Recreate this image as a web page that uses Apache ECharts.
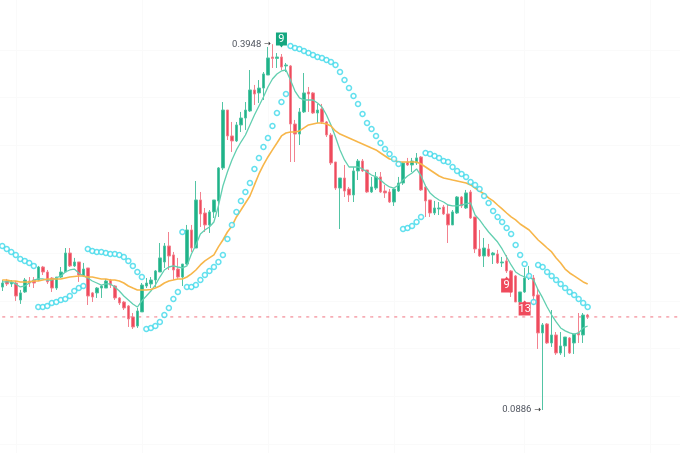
<!DOCTYPE html>
<html>
<head>
<meta charset="utf-8">
<title>chart</title>
<style>
	html,body{margin:0;padding:0;background:#fff;}
	#chart{width:680px;height:453px;}
</style>
<script src="https://cdn.jsdelivr.net/npm/echarts@6/dist/echarts.min.js"></script>
</head>
<body>
<div id="chart"></div>
<script>
var opens = [
	.1915,.1966,.1941,.1949,.1807,.1874,.1966,.1974,.1974,.2083,
	.2041,.1991,.1907,.1999,.2041,.2200,.2092,.2125,.2008,.2075,
	.1866,.1866,.1907,.1907,.1974,.1924,.1824,.1790,.1757,.1665,
	.1589,.1707,.1924,.1941,.1974,.2041,.2125,.2259,.2184,.2066,
	.1999,.2108,.2393,.2242,.2644,.2535,.2435,.2544,.2636,.2912,
	.3397,.3180,.3138,.3272,.3330,.3389,.3565,.3540,.3581,.3690,
	.3841,.3829,.3841,.3766,.3766,.3280,.3196,.3381,.3548,.3540,
	.3372,.3406,.3297,.3188,.2962,.2744,.2828,.2736,.2686,.2887,
	.2970,.2895,.2711,.2744,.2837,.2719,.2711,.2627,.2719,.2786,
	.2962,.2937,.2954,.3004,.2753,.2644,.2535,.2569,.2585,.2527,
	.2435,.2535,.2669,.2577,.2711,.2502,.2234,.2175,.2234,.2184,
	.2192,.2117,.2134,.2050,.2008,.1790,.1874,.1999,.1991,.1849,
	.1531,.1606,.1447,.1514,.1363,.1422,.1489,.1447,.1531,.1514,
	.1681
];
var closes = [
	.1949,.1941,.1958,.1840,.1866,.1974,.1949,.1949,.2083,.2041,
	.1958,.1907,.1999,.2041,.2200,.2092,.2125,.2016,.2066,.1840,
	.1832,.1907,.1924,.1966,.1932,.1824,.1782,.1740,.1648,.1581,
	.1715,.1932,.1949,.1974,.2050,.2159,.2259,.2175,.2058,.1999,
	.2108,.2393,.2242,.2644,.2527,.2435,.2544,.2644,.2912,.3397,
	.3180,.3138,.3272,.3330,.3397,.3565,.3531,.3581,.3699,.3833,
	.3829,.3841,.3757,.3774,.3280,.3196,.3381,.3540,.3531,.3372,
	.3397,.3297,.3188,.2954,.2744,.2828,.2719,.2686,.2887,.2970,
	.2887,.2711,.2753,.2837,.2711,.2703,.2627,.2736,.2786,.2954,
	.2937,.2970,.2996,.2728,.2636,.2535,.2577,.2577,.2527,.2435,
	.2544,.2669,.2594,.2703,.2493,.2234,.2175,.2242,.2175,.2200,
	.2117,.2125,.2050,.1874,.1790,.1874,.1991,.2008,.1840,.1531,
	.1598,.1447,.1514,.1363,.1422,.1497,.1363,.1522,.1514,.1681,
	.1665
];
var lows = [
	.1882,.1924,.1916,.1799,.1774,.1866,.1916,.1907,.1966,.2016,
	.1941,.1874,.1891,.1991,.2041,.2083,.2083,.1958,.1999,.1765,
	.1790,.1824,.1824,.1907,.1907,.1807,.1765,.1723,.1581,.1564,
	.1573,.1707,.1907,.1907,.1916,.2041,.2075,.2058,.1974,.1983,
	.1924,.2100,.2209,.2242,.2418,.2376,.2368,.2493,.2502,.2895,
	.3146,.3046,.3129,.3213,.3230,.3381,.3439,.3456,.3481,.3690,
	.3749,.3749,.3732,.3715,.2962,.2962,.3104,.3372,.3381,.3364,
	.3288,.3280,.3171,.2937,.2728,.2401,.2669,.2627,.2627,.2811,
	.2878,.2703,.2703,.2728,.2703,.2661,.2619,.2594,.2711,.2770,
	.2929,.2878,.2937,.2719,.2502,.2502,.2518,.2518,.2518,.2284,
	.2435,.2527,.2577,.2569,.2485,.2200,.2167,.2083,.2167,.2108,
	.2108,.2083,.2033,.1832,.1790,.1774,.1866,.1974,.1765,.1397,
	.0886,.1439,.1414,.1347,.1347,.1330,.1355,.1355,.1447,.1447,
	.1648
];
var highs = [
	.1974,.1983,.1974,.1966,.1891,.1991,.1999,.1999,.2092,.2092,
	.2058,.1999,.1999,.2083,.2242,.2242,.2159,.2125,.2117,.2075,
	.1874,.1915,.1932,.1983,.1983,.1932,.1832,.1799,.1765,.1698,
	.1740,.1949,.1991,.1999,.2058,.2284,.2284,.2376,.2209,.2159,
	.2108,.2435,.2435,.2803,.2711,.2577,.2560,.2644,.2920,.3464,
	.3397,.3297,.3297,.3381,.3464,.3732,.3607,.3648,.3715,.3925,
	.3948,.3874,.3866,.3791,.3774,.3314,.3414,.3707,.3590,.3548,
	.3448,.3448,.3305,.3205,.2962,.2828,.2937,.2753,.2920,.2987,
	.2987,.2895,.2837,.2878,.2878,.2770,.2736,.2744,.2837,.2962,
	.2996,.2996,.3037,.3012,.2770,.2644,.2636,.2627,.2602,.2602,
	.2560,.2677,.2677,.2728,.2728,.2502,.2393,.2326,.2276,.2209,
	.2226,.2167,.2184,.2058,.2016,.1874,.2075,.2092,.2016,.1907,
	.1614,.1614,.1723,.1539,.1539,.1497,.1497,.1522,.1698,.1698,
	.1690
];
var fastLine = [
	.1958,.1958,.1958,.1941,.1916,.1924,.1949,.1974,.1983,.1983,
	.1974,.1974,.1991,.2008,.2041,.2058,.2066,.2033,.2008,.1991,
	.1966,.1949,.1932,.1941,.1941,.1916,.1882,.1840,.1807,.1774,
	.1748,.1799,.1840,.1882,.1932,.1999,.2058,.2083,.2092,.2083,
	.2075,.2092,.2192,.2267,.2359,.2393,.2418,.2460,.2594,.2761,
	.2878,.2979,.3063,.3129,.3188,.3272,.3355,.3431,.3506,.3590,
	.3657,.3699,.3724,.3732,.3648,.3556,.3498,.3481,.3481,.3481,
	.3456,.3422,.3355,.3272,.3171,.3063,.2979,.2920,.2920,.2920,
	.2904,.2878,.2853,.2837,.2811,.2778,.2753,.2744,.2770,.2811,
	.2845,.2870,.2904,.2845,.2761,.2703,.2669,.2644,.2627,.2602,
	.2594,.2594,.2602,.2611,.2619,.2518,.2477,.2426,.2376,.2334,
	.2292,.2234,.2167,.2100,.2041,.2016,.1999,.1999,.1974,.1891,
	.1824,.1748,.1681,.1623,.1573,.1548,.1531,.1522,.1531,.1573,
	.1589
];
var slowLine = [
	.1974,.1974,.1966,.1966,.1958,.1958,.1958,.1966,.1966,.1974,
	.1983,.1983,.1983,.1983,.1991,.1999,.2004,.2008,.2008,.1999,
	.1999,.1991,.1983,.1983,.1974,.1974,.1966,.1949,.1924,.1907,
	.1891,.1891,.1891,.1895,.1907,.1924,.1949,.1966,.1974,.1983,
	.1983,.1999,.2025,.2058,.2100,.2134,.2159,.2184,.2251,.2309,
	.2376,.2426,.2502,.2560,.2619,.2677,.2770,.2862,.2937,.3004,
	.3063,.3121,.3180,.3205,.3213,.3213,.3222,.3247,.3272,.3280,
	.3288,.3288,.3280,.3263,.3222,.3196,.3180,.3163,.3146,.3129,
	.3113,.3096,.3079,.3063,.3037,.3012,.2987,.2979,.2962,.2962,
	.2962,.2962,.2962,.2945,.2920,.2895,.2870,.2845,.2828,.2820,
	.2811,.2803,.2795,.2786,.2770,.2744,.2719,.2694,.2661,.2636,
	.2602,.2569,.2535,.2502,.2477,.2443,.2418,.2393,.2351,.2309,
	.2276,.2242,.2209,.2159,.2117,.2066,.2033,.2008,.1983,.1958,
	.1941
];
var sarDots = [
	.2259,.2234,.2209,.2184,.2150,.2134,.2117,.2092,.1748,.1748,
	.1757,.1782,.1790,.1807,.1815,.1840,.1882,.1907,.1924,.2234,
	.2217,.2209,.2209,.2200,.2192,.2192,.2184,.2167,.2134,.2092,
	.2041,.1999,.1564,.1573,.1589,.1623,.1681,.1740,.1815,.1874,
	.2376,.1916,.1916,.1932,.1974,.2016,.2050,.2083,.2125,.2184,
	.2318,.2435,.2544,.2636,.2711,.2786,.2903,.2996,.3088,.3163,
	.3263,.3372,.3464,.3531,.3933,.3916,.3908,.3891,.3874,.3858,
	.3841,.3833,.3816,.3799,.3774,.3715,.3648,.3581,.3514,.3448,
	.3364,.3288,.3238,.3180,.3121,.3071,.3029,.2987,.2945,.2401,
	.2410,.2426,.2460,.2502,.3037,.3029,.3012,.2996,.2970,.2962,
	.2920,.2887,.2862,.2837,.2795,.2770,.2736,.2677,.2619,.2552,
	.2502,.2460,.2410,.2359,.2267,.2184,.2108,.2008,.1790,.2100,
	.2083,.2041,.2008,.1974,.1941,.1907,.1874,.1849,.1815,.1782,
	.1748
];
var gridPrices = [.3916,.3498,.3079,.2661,.2242,.1824,.1405,.0987,.0568];
var gridCandles = [3,31,59,87,116,144];
var lastPrice = .1665;
var highText = '0.3948';
var lowText = '0.0886';

var UP = '#1fb389';
var DOWN = '#ef4a5c';
var TAG_DOWN = 'path://M0 2H4L5.5 0L7 2H11V16H0Z';
var TAG_UP = 'path://M0 0H11V12H7L5.5 14L4 12H0Z';

var candles = [];
var categories = [];
for(var i=0;i<opens.length;i++){
	candles.push([opens[i],closes[i],lows[i],highs[i]]);
	categories.push(String(i));
}
// empty room right of the last candle
for(var j=0;j<20;j++){
	categories.push(String(opens.length+j));
}

var gridLines = [];
gridPrices.forEach(function(p){
	gridLines.push({yAxis:p});
});
gridCandles.forEach(function(c){
	gridLines.push({xAxis:c});
});

var priceLine = categories.map(function(){
	return lastPrice;
});

var tag = function(idx,price,text,color,path,w,h,shift){
	return {
		coord:[idx,price],
		symbol:path,
		symbolSize:[w,h],
		itemStyle:{color:color},
		label:{show:true,formatter:text,color:'#fff',fontSize:11,fontFamily:'Roboto',position:'inside',offset:[0,shift]}
	};
};
var note = function(idx,price,text){
	return {
		coord:[idx,price],
		symbol:'circle',
		symbolSize:1,
		itemStyle:{color:'rgba(0,0,0,0)'},
		label:{
			show:true,
			position:'left',
			distance:1,
			formatter:'{t|'+text+'}{a|\u2192}',
			rich:{
				t:{color:'#50555f',fontSize:9.5,fontFamily:'Roboto',padding:[0,3,0,0]},
				a:{color:'#222',fontSize:8,fontFamily:'DejaVu Sans'}
			}
		}
	};
};

var myChart = echarts.init(document.getElementById('chart'),null,{renderer:'canvas'});
var option = {
	animation:false,
	backgroundColor:'#fff',
	grid:{left:-1.76,right:-0.8,top:0,bottom:0},
	xAxis:{
		type:'category',
		data:categories,
		boundaryGap:true,
		axisLine:{show:false},
		axisTick:{show:false},
		axisLabel:{show:false},
		splitLine:{show:false}
	},
	yAxis:{
		type:'value',
		min:.0526,
		max:.4318,
		axisLine:{show:false},
		axisTick:{show:false},
		axisLabel:{show:false},
		splitLine:{show:false}
	},
	series:[
		{
			type:'candlestick',
			data:candles,
			barWidth:3,
			z:2,
			itemStyle:{color:UP,color0:DOWN,borderColor:'#52c4a4',borderColor0:'#f3828f',borderWidth:1},
			markPoint:{
				silent:true,
				z:6,
				data:[
					tag(62,.3983,'9','#14a77f',TAG_UP,11,15,-1),
					tag(112,.1937,'9',DOWN,TAG_DOWN,11,16,1),
					tag(116,.1740,'13',DOWN,TAG_DOWN,12,15,1),
					note(60,.3948,highText),
					note(120,.0886,lowText)
				]
			}
		},
		{
			type:'line',
			data:priceLine,
			symbol:'none',
			z:1,
			lineStyle:{color:'#f0707e',type:[3,5],width:1}
		},
		{
			type:'line',
			data:fastLine,
			symbol:'none',
			z:3,
			lineStyle:{color:'#62cfb0',width:1.3}
		},
		{
			type:'line',
			data:slowLine,
			symbol:'none',
			z:3,
			lineStyle:{color:'#f7b64a',width:1.6},
			markLine:{
				silent:true,
				z:0,
				symbol:'none',
				label:{show:false},
				lineStyle:{color:'#fafafa',type:'solid',width:1},
				data:gridLines
			}
		},
		{
			type:'scatter',
			data:sarDots,
			symbol:'circle',
			symbolSize:5,
			z:4,
			itemStyle:{color:'#fff',borderColor:'#3cd8ea',borderWidth:1.5}
		}
	]
};
myChart.setOption(option);
</script>
</body>
</html>
